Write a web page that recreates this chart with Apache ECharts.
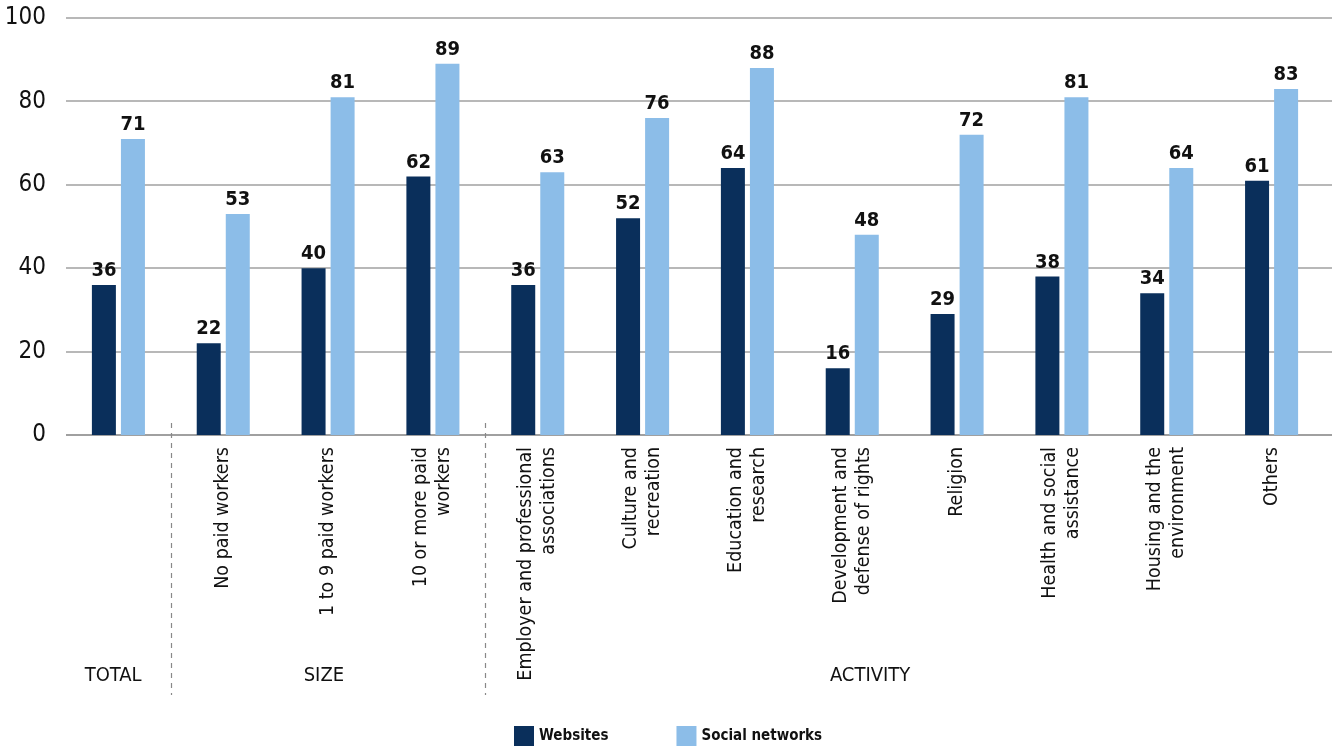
<!DOCTYPE html>
<html>
<head>
<meta charset="utf-8">
<script src="https://cdn.jsdelivr.net/npm/echarts@6/dist/echarts.min.js"></script>
<style>
  html, body { margin: 0; padding: 0; background: #fff; }
  #chart { width: 1332px; height: 747px; }
</style>
</head>
<body>
<div id="chart"></div>
<script>
const categories = [
  'TOTAL_',
  'No paid workers',
  '1 to 9 paid workers',
  '10 or more paid\nworkers',
  'Employer and professional\nassociations',
  'Culture and\nrecreation',
  'Education and\nresearch',
  'Development and\ndefense of rights',
  'Religion',
  'Health and social\nassistance',
  'Housing and the\nenvironment',
  'Others'
];
const websites = [36, 22, 40, 62, 36, 52, 64, 16, 29, 38, 34, 61];
const socialNetworks = [71, 53, 81, 89, 63, 76, 88, 48, 72, 81, 64, 83];
const yTicks = [0, 20, 40, 60, 80, 100];
// group label, anchor category position
const groups = [['TOTAL', -0.05], ['SIZE', 1.96], ['ACTIVITY', 7.17]];
const separators = [0.5, 3.5];

const FONT = '"Liberation Sans Narrow", "DejaVu Sans Condensed", sans-serif';
const chart = echarts.init(document.getElementById('chart'));

chart.setOption({
  animation: false,
  textStyle: { fontFamily: FONT },
  color: ['#0a2f5b', '#8cbde8'],
  grid: { left: 66, right: 8, top: 18, bottom: 312 },
  legend: {
    top: 721,
    left: 509,
    itemWidth: 20,
    itemHeight: 20,
    itemGap: 68,
    icon: 'rect',
    textStyle: { fontFamily: FONT, fontSize: 15, fontWeight: 'bold', color: '#111' },
    data: ['Websites', 'Social networks']
  },
  xAxis: {
    type: 'category',
    data: categories,
    axisTick: { show: false },
    axisLine: { show: false },
    axisLabel: {
      rotate: 90,
      margin: 12,
      interval: 0,
      fontFamily: FONT,
      fontSize: 19.5,
      lineHeight: 23,
      color: '#111',
      formatter: v => v === 'TOTAL_' ? '' : v
    }
  },
  yAxis: {
    type: 'value',
    min: 0,
    max: 100,
    interval: 20,
    axisLine: { show: false },
    axisTick: { show: false },
    axisLabel: { fontFamily: FONT, fontSize: 24, color: '#111', margin: 20 },
    splitLine: { show: false }
  },
  series: [
    {
      name: 'Websites',
      type: 'bar',
      data: websites,
      barWidth: 24,
      barGap: '21%',
      label: { show: true, position: 'top', distance: 4, fontFamily: FONT, fontSize: 20, fontWeight: 'bold', color: '#111' }
    },
    {
      name: 'Social networks',
      type: 'bar',
      data: socialNetworks,
      barWidth: 24,
      label: { show: true, position: 'top', distance: 4, fontFamily: FONT, fontSize: 20, fontWeight: 'bold', color: '#111' }
    }
  ]
});

// separators, group labels and gridlines placed from the axis scales
function catX(pos) {
  const a = chart.convertToPixel({ xAxisIndex: 0 }, 0);
  const b = chart.convertToPixel({ xAxisIndex: 0 }, 1);
  return a + (b - a) * pos;
}
const graphics = [];
// gridlines in the reference run to the right edge of the picture
yTicks.forEach(v => {
  const y = Math.round(chart.convertToPixel({ yAxisIndex: 0 }, v));
  graphics.push({
    type: 'line',
    z: -10,
    shape: { x1: 66, y1: y, x2: 1332, y2: y },
    style: { stroke: '#a0a0a0', lineWidth: v === 0 ? 2 : 1.5 }
  });
});
separators.forEach(s => {
  const x = Math.round(catX(s)) + 0.5;
  graphics.push({
    type: 'line',
    shape: { x1: x, y1: 423, x2: x, y2: 695 },
    style: { stroke: '#888', lineWidth: 1.2, lineDash: [5, 5] }
  });
});
groups.forEach(([name, pos]) => {
  graphics.push({
    type: 'text',
    x: catX(pos),
    y: 676,
    style: { text: name, font: '20px ' + FONT, fill: '#111', align: 'center', verticalAlign: 'middle' }
  });
});
chart.setOption({ graphic: graphics });
</script>
</body>
</html>
